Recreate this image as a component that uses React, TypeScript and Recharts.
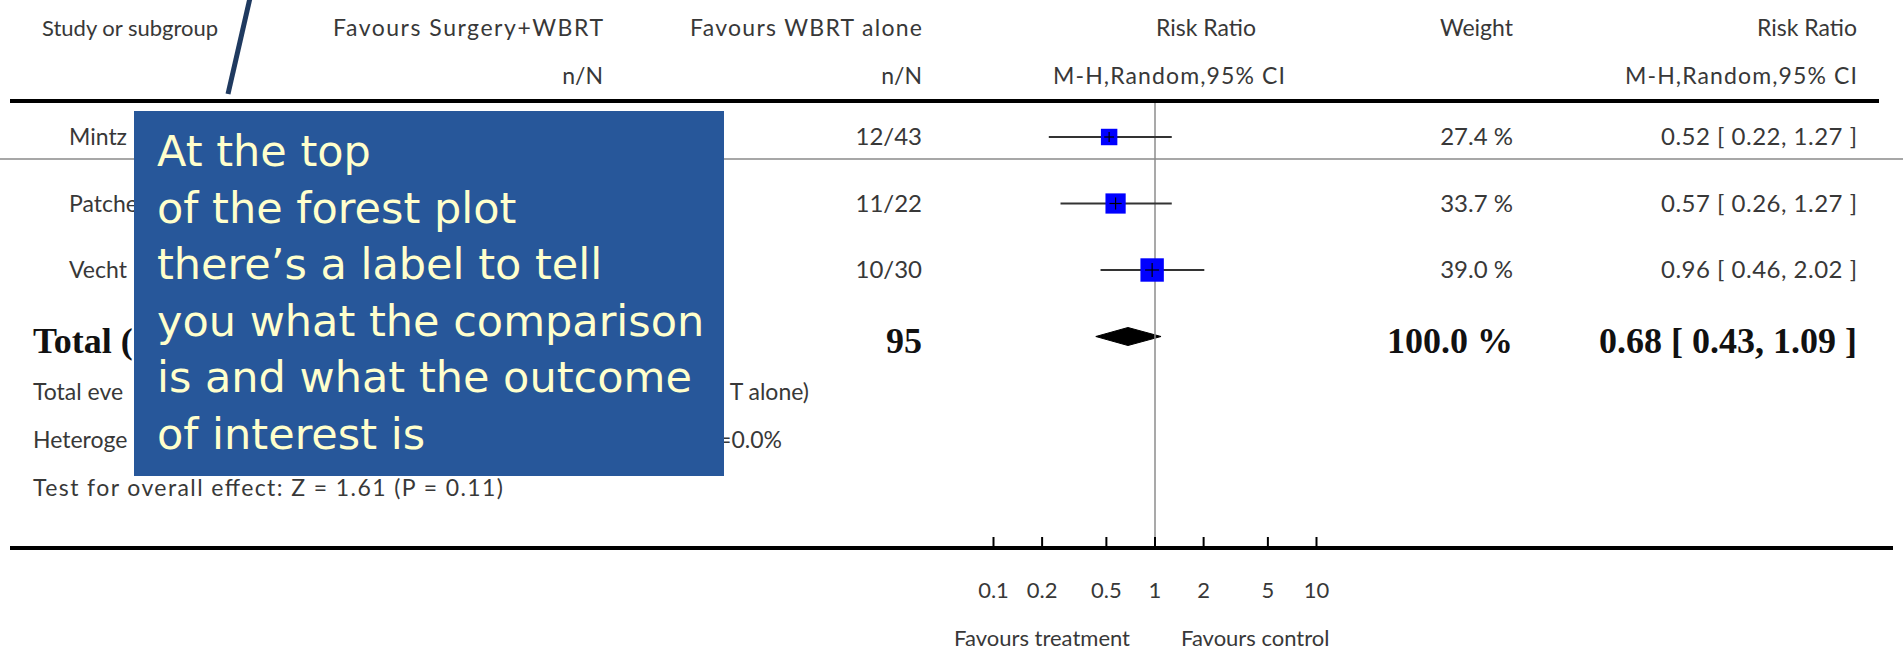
import React from 'react'
import { ComposedChart, XAxis, YAxis, Scatter, Line, Area, ReferenceLine } from 'recharts'

// studies (labels as far as they show from under the callout)
const studies = ['Mintz', 'Patche', 'Vecht']
const controlEvents = ['12/43', '11/22', '10/30']
const riskRatio = [0.52, 0.57, 0.96]
const ciLow = [0.22, 0.26, 0.46]
const ciHigh = [1.27, 1.27, 2.02]
const weights = [27.4, 33.7, 39.0]

// pooled result
const totalLabel = 'Total ('
const totalControlN = 95
const totalRR = 0.68
const totalLow = 0.43
const totalHigh = 1.09
const totalWeight = 100.0

const xTicks = [0.1, 0.2, 0.5, 1, 2, 5, 10]

// footer pieces visible on each side of the callout
const footerLeft = ['Total eve', 'Heteroge']
const footerRight = ['T alone)', '=0.0%']
const overallEffect = 'Test for overall effect: Z = 1.61 (P = 0.11)'

const calloutLines = [
  'At the top',
  'of the forest plot',
  'there’s a label to tell',
  'you what the comparison',
  'is and what the outcome',
  'of interest is',
]

// layout
const W = 1903
const H = 650
const PLOT_LEFT = 10
const PLOT_RIGHT = 1893
const PLOT_TOP = 102
const PLOT_BOTTOM = 548
const X_ONE = 1155
const PX_PER_DECADE = 161.5
const ROW0 = 137
const ROW_STEP = 66.5

const xDomain = [
  Math.pow(10, (PLOT_LEFT - X_ONE) / PX_PER_DECADE),
  Math.pow(10, (PLOT_RIGHT - X_ONE) / PX_PER_DECADE),
]
const yDomain = [(PLOT_TOP - ROW0) / ROW_STEP, (PLOT_BOTTOM - ROW0) / ROW_STEP]

const SANS = "Lato, 'Open Sans', sans-serif"
const SERIF = "'Liberation Serif', 'DejaVu Serif', serif"
const TEXT = '#383838'

const fmt2 = (v: number) => v.toFixed(2)
const ciText = (rr: number, lo: number, hi: number) => `${fmt2(rr)} [ ${fmt2(lo)}, ${fmt2(hi)} ]`

const StudyBox = (props: any) => {
  const { cx, cy, payload } = props
  const s = payload.w * 0.6
  return (
    <g>
      <rect x={cx - s / 2} y={cy - s / 2} width={s} height={s} fill="#0000ff" />
      <line x1={cx - s * 0.3} x2={cx + s * 0.3} y1={cy} y2={cy} stroke="#000" strokeWidth={1.2} />
      <line x1={cx} x2={cx} y1={cy - s * 0.3} y2={cy + s * 0.3} stroke="#000" strokeWidth={1.2} />
    </g>
  )
}

const RatioTick = (props: any) => {
  const { x, y, payload } = props
  return (
    <g>
      <line x1={x} x2={x} y1={y - 11} y2={y} stroke="#000" strokeWidth={2} />
      <text x={x} y={y + 50} textAnchor="middle" fontSize={22} fill={TEXT} fontFamily={SANS}>
        {String(payload.value)}
      </text>
    </g>
  )
}

function App(): React.JSX.Element {
  const points = studies.map((s, i) => ({ x: riskRatio[i], y: i, w: weights[i] }))
  const totalRow = studies.length
  const half = 9 / ROW_STEP
  const diamond = [
    { x: totalLow, band: [totalRow, totalRow] },
    { x: totalRR, band: [totalRow - half, totalRow + half] },
    { x: totalHigh, band: [totalRow, totalRow] },
  ]
  const rowY = (i: number) => ROW0 + i * ROW_STEP

  return (
    <div style={{ position: 'relative', width: W, height: H, background: '#fff', overflow: 'hidden' }}>
      <style>{'body{margin:0}'}</style>
      <div style={{ position: 'absolute', left: 0, top: 0 }}>
        <ComposedChart
          width={W}
          height={H}
          margin={{ top: PLOT_TOP, right: W - PLOT_RIGHT, bottom: 0, left: PLOT_LEFT }}
        >
          <XAxis
            type="number"
            dataKey="x"
            scale="log"
            domain={xDomain}
            allowDataOverflow
            ticks={xTicks}
            interval={0}
            height={H - PLOT_BOTTOM}
            axisLine={{ stroke: '#000', strokeWidth: 4 }}
            tickLine={false}
            tickSize={0}
            tickMargin={0}
            tick={<RatioTick />}
          />
          <YAxis type="number" dataKey="y" domain={yDomain} reversed allowDataOverflow hide />
          <ReferenceLine x={1} stroke="#8c8c8c" strokeWidth={1.5} />
          {studies.map((s, i) => (
            <Line
              key={s}
              data={[
                { x: ciLow[i], y: i },
                { x: ciHigh[i], y: i },
              ]}
              dataKey="y"
              stroke="#333"
              strokeWidth={2}
              dot={false}
              activeDot={false}
              isAnimationActive={false}
            />
          ))}
          <Scatter data={points} shape={<StudyBox />} isAnimationActive={false} />
          <Area
            data={diamond}
            dataKey="band"
            type="linear"
            fill="#000"
            fillOpacity={1}
            stroke="#000"
            strokeWidth={1}
            activeDot={false}
            isAnimationActive={false}
          />
        </ComposedChart>
      </div>

      <svg
        width={W}
        height={H}
        style={{ position: 'absolute', left: 0, top: 0, pointerEvents: 'none' }}
        fontFamily={SANS}
        fontSize={23}
        fill={TEXT}
      >
        {/* header */}
        <text x={42} y={36} fontSize={22}>Study or subgroup</text>
        <text x={603} y={36} textAnchor="end" textLength={270} lengthAdjust="spacing">Favours Surgery+WBRT</text>
        <text x={922} y={36} textAnchor="end" textLength={232} lengthAdjust="spacing">Favours WBRT alone</text>
        <text x={1206} y={36} textAnchor="middle">Risk Ratio</text>
        <text x={1513} y={36} textAnchor="end">Weight</text>
        <text x={1857} y={36} textAnchor="end">Risk Ratio</text>
        <text x={603} y={84} textAnchor="end">n/N</text>
        <text x={922} y={84} textAnchor="end">n/N</text>
        <text x={1169} y={84} textAnchor="middle" textLength={232} lengthAdjust="spacing">M-H,Random,95% CI</text>
        <text x={1857} y={84} textAnchor="end" textLength={232} lengthAdjust="spacing">M-H,Random,95% CI</text>
        <line x1={10} x2={1879} y1={101} y2={101} stroke="#000" strokeWidth={4} />
        <line x1={0} x2={W} y1={159} y2={159} stroke="#8a8a8a" strokeWidth={1.5} />

        {/* study rows */}
        {studies.map((s, i) => (
          <g key={s}>
            <text x={69} y={rowY(i) + 8}>{s}</text>
            <text x={922} y={rowY(i) + 8} textAnchor="end" fontSize={24}>{controlEvents[i]}</text>
            <text x={1513} y={rowY(i) + 8} textAnchor="end" fontSize={24}>{`${weights[i].toFixed(1)} %`}</text>
            <text x={1857} y={rowY(i) + 8} textAnchor="end" fontSize={24} textLength={196} lengthAdjust="spacing">
              {ciText(riskRatio[i], ciLow[i], ciHigh[i])}
            </text>
          </g>
        ))}

        {/* total row */}
        <g fontFamily={SERIF} fontWeight="bold" fontSize={36} fill="#111">
          <text x={33} y={rowY(totalRow) + 16}>{totalLabel}</text>
          <text x={922} y={rowY(totalRow) + 16} textAnchor="end">{totalControlN}</text>
          <text x={1513} y={rowY(totalRow) + 16} textAnchor="end">{`${totalWeight.toFixed(1)} %`}</text>
          <text x={1857} y={rowY(totalRow) + 16} textAnchor="end">{ciText(totalRR, totalLow, totalHigh)}</text>
        </g>

        {footerLeft.map((t, i) => (
          <text key={t} x={33} y={400 + i * 48}>{t}</text>
        ))}
        <text x={809} y={400} textAnchor="end">{footerRight[0]}</text>
        <text x={782} y={448} textAnchor="end">{footerRight[1]}</text>
        <text x={33} y={496} textLength={470} lengthAdjust="spacing">{overallEffect}</text>

        {/* axis captions */}
        <text x={1130} y={646} fontSize={22} textAnchor="end">Favours treatment</text>
        <text x={1181} y={646} fontSize={22}>Favours control</text>

        {/* callout */}
        <rect x={134} y={111} width={590} height={365} fill="#27579a" />
        <g fontFamily="'Comic Sans MS', 'DejaVu Sans', sans-serif" fontSize={43} fill="#ffffcc">
          {calloutLines.map((t, i) => (
            <text key={t} x={157} y={166 + i * 56.5}>{t}</text>
          ))}
        </g>
        <line x1={250} y1={-2} x2={228} y2={94} stroke="#1f3a60" strokeWidth={5} />
      </svg>
    </div>
  )
}

export default App
